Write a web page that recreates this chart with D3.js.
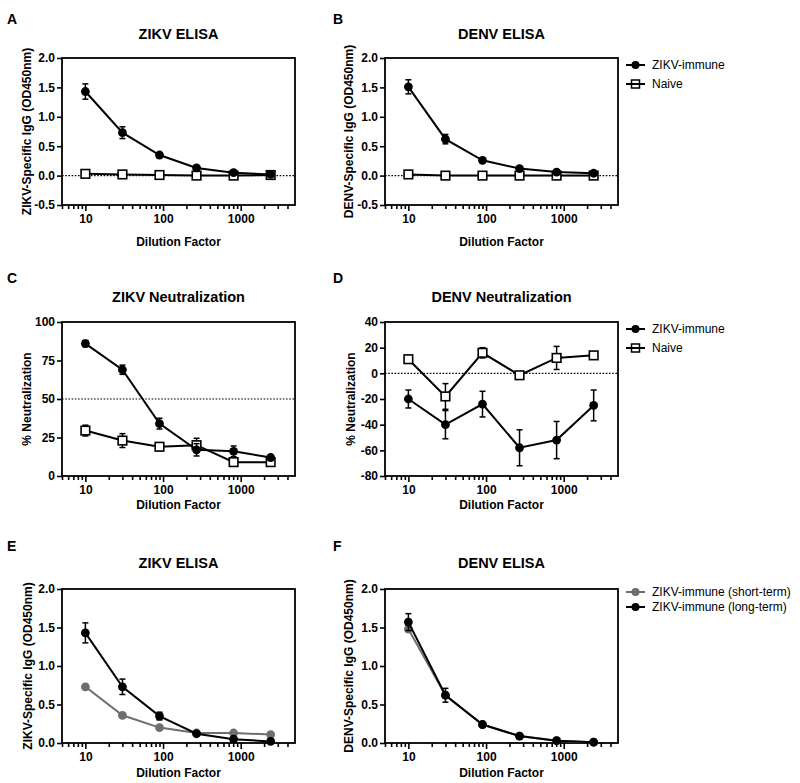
<!DOCTYPE html>
<html>
<head>
<meta charset="utf-8">
<script src="https://cdn.jsdelivr.net/npm/d3@7"></script>
<style>
  html, body { margin: 0; padding: 0; background: #fff; }
  svg { display: block; }
  text { font-family: "Liberation Sans", Arial, sans-serif; fill: #000; }
</style>
</head>
<body>
<svg id="chart" width="800" height="783"></svg>
<script>
// ---------------- DATA ----------------
const dilutions = [10, 30, 90, 270, 810, 2430];
const xMajorTicks = [10, 100, 1000];
const xMinorTicks = [5, 6, 7, 8, 9, 20, 30, 40, 50, 60, 70, 80, 90, 200, 300, 400, 500, 600, 700, 800, 900, 2000, 3000, 4000];

// A: ZIKV ELISA
const aImmune    = [1.43, 0.73, 0.35, 0.13, 0.05, 0.02];
const aImmuneErr = [0.13, 0.10, 0.03, 0.02, 0.02, 0.01];
const aNaive     = [0.03, 0.02, 0.01, 0.00, 0.00, 0.01];
const aNaiveErr  = [0.01, 0.01, 0.01, 0.01, 0.01, 0.01];
// B: DENV ELISA
const bImmune    = [1.51, 0.62, 0.26, 0.12, 0.06, 0.04];
const bImmuneErr = [0.12, 0.08, 0.02, 0.02, 0.01, 0.01];
const bNaive     = [0.02, 0.00, 0.00, 0.00, 0.00, 0.00];
const bNaiveErr  = [0.01, 0.01, 0.01, 0.01, 0.01, 0.01];
// C: ZIKV Neutralization
const cImmune    = [86, 69, 34, 17, 16, 12];
const cImmuneErr = [2, 3, 3.5, 4, 3.5, 1.5];
const cNaive     = [29.5, 23, 19, 20, 9, 9];
const cNaiveErr  = [3.5, 4.5, 2.5, 4.5, 1.5, 1.5];
// D: DENV Neutralization
const dImmune    = [-20, -40, -24, -58, -52, -25];
const dImmuneErr = [7, 11, 10, 14, 14.5, 12];
const dNaive     = [11, -18, 16, -1.5, 12, 14];
const dNaiveErr  = [1.5, 10, 4, 2.5, 9, 1.5];
// E: ZIKV ELISA (short vs long term)
const eShort     = [0.73, 0.36, 0.20, 0.13, 0.13, 0.11];
const eShortErr  = [0.01, 0.01, 0.01, 0.01, 0.01, 0.01];
const eLong      = [1.43, 0.73, 0.35, 0.12, 0.05, 0.02];
const eLongErr   = [0.13, 0.10, 0.05, 0.02, 0.02, 0.01];
// F: DENV ELISA (short vs long term)
const fShort     = [1.48, 0.62, 0.24, 0.09, 0.03, 0.01];
const fShortErr  = [0.02, 0.02, 0.01, 0.01, 0.01, 0.01];
const fLong      = [1.57, 0.62, 0.24, 0.09, 0.03, 0.01];
const fLongErr   = [0.11, 0.09, 0.02, 0.01, 0.01, 0.01];

const elisaTicks = [-0.5, 0, 0.5, 1.0, 1.5, 2.0];
const elisaTicksPos = [0, 0.5, 1.0, 1.5, 2.0];
const zikvNeutTicks = [0, 25, 50, 75, 100];
const denvNeutTicks = [-80, -60, -40, -20, 0, 20, 40];

const legendAB = ["ZIKV-immune", "Naive"];
const legendEF = ["ZIKV-immune (short-term)", "ZIKV-immune (long-term)"];

// ---------------- DRAWING ----------------
const svg = d3.select("#chart");
svg.append("rect").attr("width", 800).attr("height", 783).attr("fill", "#fff");

const GRAY = "#6e6e6e";
const fmt1 = v => v.toFixed(1);
const fmt0 = v => String(v);

function drawPanel(p) {
  const g = svg.append("g");
  const x = d3.scaleLog().domain([5, 5000]).range([p.left, p.left + 233]);
  const y = d3.scaleLinear().domain(p.yDomain).range([p.bottom, p.top]);

  // reference line
  if (p.refLine !== undefined) {
    g.append("line")
      .attr("x1", p.left).attr("x2", p.left + 233)
      .attr("y1", y(p.refLine)).attr("y2", y(p.refLine))
      .attr("stroke", "#000").attr("stroke-width", 1.1)
      .attr("stroke-dasharray", "1.6,1.6");
  }

  // axes
  const yAxis = d3.axisLeft(y).tickValues(p.yTicks).tickFormat(p.yFmt).tickSize(5).tickPadding(2);
  const ya = g.append("g").attr("transform", `translate(${p.left},0)`).call(yAxis);
  const xAxis = d3.axisBottom(x).tickValues(xMajorTicks).tickFormat(d3.format("d")).tickSize(6).tickPadding(3);
  const xa = g.append("g").attr("transform", `translate(0,${p.bottom})`).call(xAxis);
  const xMinor = d3.axisBottom(x).tickValues(xMinorTicks).tickFormat("").tickSize(4);
  const xm = g.append("g").attr("transform", `translate(0,${p.bottom})`).call(xMinor);
  [ya, xa, xm].forEach(a => {
    a.select(".domain").remove();
    a.selectAll(".tick line").attr("stroke", "#000").attr("stroke-width", 1.6);
    a.selectAll(".tick text").attr("font-size", 12).attr("font-weight", "bold")
      .attr("font-family", "'Liberation Sans', Arial, sans-serif").attr("fill", "#000");
  });

  // frame
  g.append("rect")
    .attr("x", p.left).attr("y", p.top)
    .attr("width", 233).attr("height", p.bottom - p.top)
    .attr("fill", "none").attr("stroke", "#000").attr("stroke-width", 1.8);

  // series
  p.series.forEach(s => {
    const pts = dilutions.map((d, i) => ({ d, v: s.values[i], e: s.errors[i] }));
    const line = d3.line().x(q => x(q.d)).y(q => y(q.v));
    g.append("path").datum(pts).attr("d", line)
      .attr("fill", "none").attr("stroke", s.color).attr("stroke-width", 2);
    const eb = g.append("g");
    pts.forEach(q => {
      const y1 = y(q.v + q.e), y2 = y(q.v - q.e), cx = x(q.d);
      eb.append("line").attr("x1", cx).attr("x2", cx).attr("y1", y1).attr("y2", y2)
        .attr("stroke", s.color).attr("stroke-width", 1.5);
      [y1, y2].forEach(yy => eb.append("line").attr("x1", cx - 3).attr("x2", cx + 3)
        .attr("y1", yy).attr("y2", yy).attr("stroke", s.color).attr("stroke-width", 1.5));
    });
    if (s.marker === "circle") {
      g.selectAll(null).data(pts).enter().append("circle")
        .attr("cx", q => x(q.d)).attr("cy", q => y(q.v)).attr("r", 4.4)
        .attr("fill", s.color);
    } else {
      g.selectAll(null).data(pts).enter().append("rect")
        .attr("x", q => x(q.d) - 4.3).attr("y", q => y(q.v) - 4.3)
        .attr("width", 8.6).attr("height", 8.6)
        .attr("fill", "#fff").attr("stroke", s.color).attr("stroke-width", 1.6);
    }
  });

  // title, letter, labels
  svg.append("text").attr("x", p.left + 116.5).attr("y", p.titleY)
    .attr("text-anchor", "middle").attr("font-size", 14.5).attr("font-weight", "bold").text(p.title);
  svg.append("text").attr("x", p.letterX).attr("y", p.letterY)
    .attr("font-size", 14).attr("font-weight", "bold").text(p.letter);
  svg.append("text").attr("x", p.left + 116.5).attr("y", p.xLabelY)
    .attr("text-anchor", "middle").attr("font-size", 12).attr("font-weight", "bold").text("Dilution Factor");
  const yc = (p.top + p.bottom) / 2;
  svg.append("text").attr("transform", `translate(${p.yLabelX},${yc}) rotate(-90)`)
    .attr("text-anchor", "middle").attr("dominant-baseline", "central")
    .attr("font-size", 12).attr("font-weight", "bold").text(p.yLabel);

  // legend
  if (p.legend) {
    p.legend.items.forEach((it, i) => {
      const ly = p.legend.ys[i];
      const lg = svg.append("g");
      lg.append("line").attr("x1", 626).attr("x2", 645).attr("y1", ly).attr("y2", ly)
        .attr("stroke", it.color).attr("stroke-width", 2);
      if (it.marker === "circle") {
        lg.append("circle").attr("cx", 635.5).attr("cy", ly).attr("r", 4).attr("fill", it.color);
      } else {
        lg.append("rect").attr("x", 631.5).attr("y", ly - 4).attr("width", 8).attr("height", 8)
          .attr("fill", "none").attr("stroke", it.color).attr("stroke-width", 1.5);
      }
      lg.append("text").attr("x", 652).attr("y", ly).attr("dominant-baseline", "central")
        .attr("font-size", 12).text(it.label);
    });
  }
}

const abLegend = [
  { label: legendAB[0], marker: "circle", color: "#000" },
  { label: legendAB[1], marker: "square", color: "#000" }
];
const efLegend = [
  { label: legendEF[0], marker: "circle", color: GRAY },
  { label: legendEF[1], marker: "circle", color: "#000" }
];

drawPanel({
  left: 62, top: 58, bottom: 205, yDomain: [-0.5, 2], yTicks: elisaTicks, yFmt: fmt1, refLine: 0,
  title: "ZIKV ELISA", titleY: 39, letter: "A", letterX: 7, letterY: 24, xLabelY: 246,
  yLabel: "ZIKV-Specific IgG (OD450nm)", yLabelX: 27,
  series: [
    { values: aNaive, errors: aNaiveErr, marker: "square", color: "#000" },
    { values: aImmune, errors: aImmuneErr, marker: "circle", color: "#000" }
  ]
});
drawPanel({
  left: 385, top: 58, bottom: 205, yDomain: [-0.5, 2], yTicks: elisaTicks, yFmt: fmt1, refLine: 0,
  title: "DENV ELISA", titleY: 39, letter: "B", letterX: 333, letterY: 24, xLabelY: 246,
  yLabel: "DENV-Specific IgG (OD450nm)", yLabelX: 349,
  series: [
    { values: bNaive, errors: bNaiveErr, marker: "square", color: "#000" },
    { values: bImmune, errors: bImmuneErr, marker: "circle", color: "#000" }
  ],
  legend: { items: abLegend, ys: [65, 84] }
});
drawPanel({
  left: 62, top: 322, bottom: 476, yDomain: [0, 100], yTicks: zikvNeutTicks, yFmt: fmt0, refLine: 50,
  title: "ZIKV Neutralization", titleY: 302, letter: "C", letterX: 7, letterY: 283, xLabelY: 509,
  yLabel: "% Neutralization", yLabelX: 27,
  series: [
    { values: cNaive, errors: cNaiveErr, marker: "square", color: "#000" },
    { values: cImmune, errors: cImmuneErr, marker: "circle", color: "#000" }
  ]
});
drawPanel({
  left: 385, top: 322, bottom: 476, yDomain: [-80, 40], yTicks: denvNeutTicks, yFmt: fmt0, refLine: 0,
  title: "DENV Neutralization", titleY: 302, letter: "D", letterX: 333, letterY: 283, xLabelY: 509,
  yLabel: "% Neutralization", yLabelX: 351,
  series: [
    { values: dNaive, errors: dNaiveErr, marker: "square", color: "#000" },
    { values: dImmune, errors: dImmuneErr, marker: "circle", color: "#000" }
  ],
  legend: { items: abLegend, ys: [329, 348] }
});
drawPanel({
  left: 62, top: 589, bottom: 743, yDomain: [0, 2], yTicks: elisaTicksPos, yFmt: fmt1,
  title: "ZIKV ELISA", titleY: 568, letter: "E", letterX: 7, letterY: 551, xLabelY: 777,
  yLabel: "ZIKV-Specific IgG (OD450nm)", yLabelX: 28,
  series: [
    { values: eShort, errors: eShortErr, marker: "circle", color: GRAY },
    { values: eLong, errors: eLongErr, marker: "circle", color: "#000" }
  ]
});
drawPanel({
  left: 385, top: 589, bottom: 743, yDomain: [0, 2], yTicks: elisaTicksPos, yFmt: fmt1,
  title: "DENV ELISA", titleY: 568, letter: "F", letterX: 333, letterY: 551, xLabelY: 777,
  yLabel: "DENV-Specific IgG (OD450nm)", yLabelX: 349,
  series: [
    { values: fShort, errors: fShortErr, marker: "circle", color: GRAY },
    { values: fLong, errors: fLongErr, marker: "circle", color: "#000" }
  ],
  legend: { items: efLegend, ys: [592, 607] }
});
</script>
</body>
</html>
